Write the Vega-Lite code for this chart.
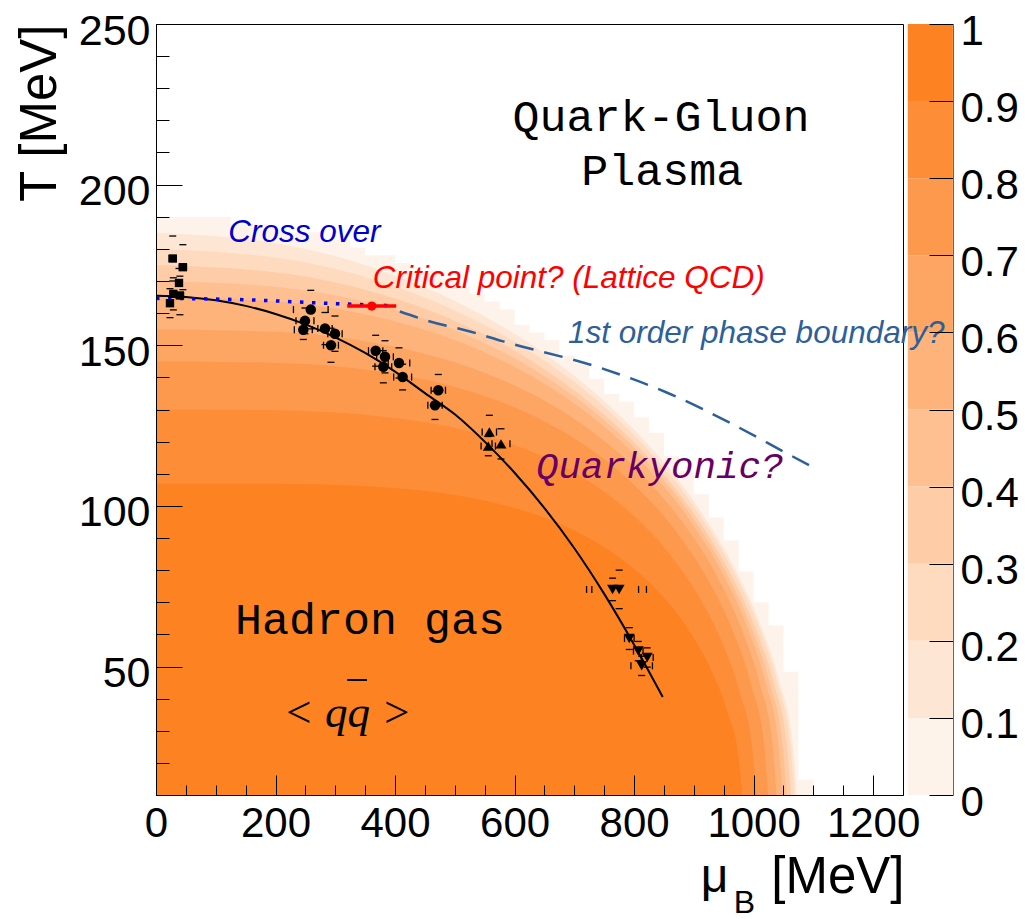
{
  "$schema": "https://vega.github.io/schema/vega-lite/v6.json",
  "width": 747,
  "height": 771,
  "autosize": "none",
  "padding": {"left": 156, "top": 24, "right": 122, "bottom": 124},
  "background": "white",
  "config": {
    "view": {"stroke": "black", "strokeWidth": 1},
    "axis": {"grid": false, "labelFont": "Liberation Sans", "titleFont": "Liberation Sans", "titleFontWeight": "normal", "labelColor": "black", "titleColor": "black", "domainColor": "black", "tickColor": "black", "labelFlush": false, "labelOverlap": false},
    "text": {"font": "Liberation Sans"}
  },
  "datasets": {
    "edge": [
      {"l":"L0","mu":0,"T":190},{"l":"L0","mu":25,"T":190},{"l":"L0","mu":50,"T":190},{"l":"L0","mu":75,"T":190},{"l":"L0","mu":100,"T":190},
      {"l":"L0","mu":125,"T":187.6},{"l":"L0","mu":150,"T":187.6},{"l":"L0","mu":175,"T":187.6},{"l":"L0","mu":200,"T":185.2},{"l":"L0","mu":225,"T":185.2},
      {"l":"L0","mu":250,"T":185.2},{"l":"L0","mu":275,"T":182.8},{"l":"L0","mu":300,"T":182.8},{"l":"L0","mu":325,"T":180.4},{"l":"L0","mu":350,"T":178},
      {"l":"L0","mu":375,"T":178},{"l":"L0","mu":400,"T":175.6},{"l":"L0","mu":425,"T":173.2},{"l":"L0","mu":450,"T":173.2},{"l":"L0","mu":475,"T":170.8},
      {"l":"L0","mu":500,"T":168.4},{"l":"L0","mu":525,"T":166},{"l":"L0","mu":550,"T":163.6},{"l":"L0","mu":575,"T":161.2},{"l":"L0","mu":600,"T":156.4},
      {"l":"L0","mu":625,"T":154},{"l":"L0","mu":650,"T":151.6},{"l":"L0","mu":675,"T":146.8},{"l":"L0","mu":700,"T":144.4},{"l":"L0","mu":725,"T":139.6},
      {"l":"L0","mu":750,"T":134.8},{"l":"L0","mu":775,"T":132.4},{"l":"L0","mu":800,"T":127.6},{"l":"L0","mu":825,"T":122.8},{"l":"L0","mu":850,"T":115.6},
      {"l":"L0","mu":875,"T":110.8},{"l":"L0","mu":900,"T":103.6},{"l":"L0","mu":925,"T":96.4},{"l":"L0","mu":950,"T":89.2},{"l":"L0","mu":975,"T":79.6},
      {"l":"L0","mu":1000,"T":70},{"l":"L0","mu":1025,"T":62.8},{"l":"L0","mu":1050,"T":48.4},{"l":"L0","mu":1075,"T":14.8},{"l":"L0","mu":1100,"T":0}
    ],
    "bands": [
      {"l":"L1","mu":0,"T":185},{"l":"L1","mu":215.2,"T":181.3},{"l":"L1","mu":376.6,"T":173.3},{"l":"L1","mu":538,"T":160.2},{"l":"L1","mu":645.6,"T":148},{"l":"L1","mu":753.2,"T":132.1},{"l":"L1","mu":839.3,"T":115.8},{"l":"L1","mu":914.6,"T":97.5},{"l":"L1","mu":968.4,"T":80.6},{"l":"L1","mu":1011.4,"T":63.1},{"l":"L1","mu":1043.7,"T":45},{"l":"L1","mu":1065.2,"T":26.1},{"l":"L1","mu":1076,"T":0},
      {"l":"L2","mu":0,"T":180},{"l":"L2","mu":214.4,"T":176.9},{"l":"L2","mu":375.2,"T":169.8},{"l":"L2","mu":536,"T":157.6},{"l":"L2","mu":643.2,"T":146},{"l":"L2","mu":750.4,"T":130.8},{"l":"L2","mu":836.2,"T":114.8},{"l":"L2","mu":911.2,"T":96.8},{"l":"L2","mu":964.8,"T":80.2},{"l":"L2","mu":1007.7,"T":62.8},{"l":"L2","mu":1039.8,"T":44.8},{"l":"L2","mu":1061.3,"T":26},{"l":"L2","mu":1072,"T":0},
      {"l":"L3","mu":0,"T":175},{"l":"L3","mu":213.2,"T":172.4},{"l":"L3","mu":373.1,"T":166.1},{"l":"L3","mu":533,"T":154.8},{"l":"L3","mu":639.6,"T":143.8},{"l":"L3","mu":746.2,"T":129},{"l":"L3","mu":831.5,"T":113.6},{"l":"L3","mu":906.1,"T":96},{"l":"L3","mu":959.4,"T":79.6},{"l":"L3","mu":1002,"T":62.4},{"l":"L3","mu":1034,"T":44.6},{"l":"L3","mu":1055.3,"T":25.9},{"l":"L3","mu":1066,"T":0},
      {"l":"L4","mu":0,"T":170},{"l":"L4","mu":211.8,"T":168},{"l":"L4","mu":370.7,"T":162.6},{"l":"L4","mu":529.5,"T":152.4},{"l":"L4","mu":635.4,"T":142.1},{"l":"L4","mu":741.3,"T":128.1},{"l":"L4","mu":826,"T":113.1},{"l":"L4","mu":900.2,"T":95.8},{"l":"L4","mu":953.1,"T":79.6},{"l":"L4","mu":995.5,"T":62.5},{"l":"L4","mu":1027.2,"T":44.7},{"l":"L4","mu":1048.4,"T":25.9},{"l":"L4","mu":1059,"T":0},
      {"l":"L5","mu":0,"T":165},{"l":"L5","mu":210.4,"T":163.5},{"l":"L5","mu":368.2,"T":158.9},{"l":"L5","mu":526,"T":149.7},{"l":"L5","mu":631.2,"T":140.1},{"l":"L5","mu":736.4,"T":126.7},{"l":"L5","mu":820.6,"T":112.2},{"l":"L5","mu":894.2,"T":95.3},{"l":"L5","mu":946.8,"T":79.4},{"l":"L5","mu":988.9,"T":62.5},{"l":"L5","mu":1020.4,"T":44.7},{"l":"L5","mu":1041.5,"T":26},{"l":"L5","mu":1052,"T":0},
      {"l":"L6","mu":0,"T":155},{"l":"L6","mu":208.4,"T":154.1},{"l":"L6","mu":364.7,"T":150.8},{"l":"L6","mu":521,"T":143.4},{"l":"L6","mu":625.2,"T":135.2},{"l":"L6","mu":729.4,"T":123.2},{"l":"L6","mu":812.8,"T":109.7},{"l":"L6","mu":885.7,"T":93.7},{"l":"L6","mu":937.8,"T":78.4},{"l":"L6","mu":979.5,"T":61.8},{"l":"L6","mu":1010.7,"T":44.3},{"l":"L6","mu":1031.6,"T":25.8},{"l":"L6","mu":1042,"T":0},
      {"l":"L7","mu":0,"T":145},{"l":"L7","mu":205.6,"T":144.5},{"l":"L7","mu":359.8,"T":142.2},{"l":"L7","mu":514,"T":136.3},{"l":"L7","mu":616.8,"T":129.3},{"l":"L7","mu":719.6,"T":118.6},{"l":"L7","mu":801.8,"T":106.3},{"l":"L7","mu":873.8,"T":91.2},{"l":"L7","mu":925.2,"T":76.5},{"l":"L7","mu":966.3,"T":60.6},{"l":"L7","mu":997.2,"T":43.5},{"l":"L7","mu":1017.7,"T":25.4},{"l":"L7","mu":1028,"T":0},
      {"l":"L8","mu":0,"T":130},{"l":"L8","mu":201.6,"T":129.8},{"l":"L8","mu":352.8,"T":128.3},{"l":"L8","mu":504,"T":124.1},{"l":"L8","mu":604.8,"T":118.6},{"l":"L8","mu":705.6,"T":109.8},{"l":"L8","mu":786.2,"T":99.1},{"l":"L8","mu":856.8,"T":85.6},{"l":"L8","mu":907.2,"T":72.2},{"l":"L8","mu":947.5,"T":57.4},{"l":"L8","mu":977.8,"T":41.3},{"l":"L8","mu":997.9,"T":24.2},{"l":"L8","mu":1008,"T":0},
      {"l":"L9","mu":0,"T":107},{"l":"L9","mu":197,"T":106.9},{"l":"L9","mu":344.8,"T":106.2},{"l":"L9","mu":492.5,"T":103.6},{"l":"L9","mu":591,"T":99.8},{"l":"L9","mu":689.5,"T":93.3},{"l":"L9","mu":768.3,"T":84.9},{"l":"L9","mu":837.3,"T":74},{"l":"L9","mu":886.5,"T":62.7},{"l":"L9","mu":925.9,"T":50.1},{"l":"L9","mu":955.5,"T":36.2},{"l":"L9","mu":975.2,"T":21.2},{"l":"L9","mu":985,"T":0}
    ],
    "cbar": [
      {"l":"L0","lo":0,"hi":0.1},{"l":"L1","lo":0.1,"hi":0.2},{"l":"L2","lo":0.2,"hi":0.3},{"l":"L3","lo":0.3,"hi":0.4},{"l":"L4","lo":0.4,"hi":0.5},
      {"l":"L5","lo":0.5,"hi":0.6},{"l":"L6","lo":0.6,"hi":0.7},{"l":"L7","lo":0.7,"hi":0.8},{"l":"L8","lo":0.8,"hi":0.9},{"l":"L9","lo":0.9,"hi":1}
    ],
    "fo": [
      {"mu":0,"T":165.4},{"mu":50,"T":165.05},{"mu":100,"T":164},{"mu":150,"T":162.25},{"mu":200,"T":159.75},{"mu":250,"T":156.5},{"mu":300,"T":152.45},{"mu":350,"T":147.6},{"mu":400,"T":141.8},{"mu":450,"T":135.1},{"mu":500,"T":128.5},{"mu":550,"T":120},{"mu":600,"T":110.3},{"mu":650,"T":99.3},{"mu":700,"T":86.8},{"mu":750,"T":72.6},{"mu":800,"T":56.8},{"mu":848,"T":40.5}
    ],
    "xo": [{"mu":0,"T":164.6},{"mu":160,"T":164.1},{"mu":280,"T":163.1},{"mu":400,"T":162.3}],
    "fo1": [{"mu":408,"T":160.5},{"mu":458.5,"T":157.4},{"mu":525.4,"T":154.3},{"mu":581,"T":151.2},{"mu":743,"T":143},{"mu":854.5,"T":135.3},{"mu":966,"T":125.3},{"mu":1055,"T":116.4},{"mu":1105.5,"T":111.4}],
    "cp": [{"mu":361,"T":162.2,"mL":320,"mH":402}],
    "qbar": [{"mL":320,"mH":353,"T":45.8}],
    "pts": [
      {"k":"sq","mu":28,"T":177,"mL":22,"mH":34,"TL":170,"TH":184},
      {"k":"sq","mu":45,"T":174.3,"mL":39,"mH":51,"TL":167.3,"TH":181.3},
      {"k":"sq","mu":38.5,"T":169.4,"mL":33.5,"mH":43.5,"TL":164.9,"TH":173.9},
      {"k":"sq","mu":29,"T":166,"mL":24,"mH":34,"TL":161,"TH":171},
      {"k":"sq","mu":40,"T":165.5,"mL":34,"mH":46,"TL":159.5,"TH":171.5},
      {"k":"sq","mu":23.4,"T":163.1,"mL":18.4,"mH":28.4,"TL":158.6,"TH":167.6},
      {"k":"ci","mu":259,"T":161.1,"mL":230,"mH":288,"TL":155.1,"TH":167.1},
      {"k":"ci","mu":249.3,"T":157.6,"mL":234.3,"mH":264.3,"TL":153.6,"TH":161.6},
      {"k":"ci","mu":246.5,"T":154.8,"mL":231.5,"mH":261.5,"TL":151.8,"TH":157.8},
      {"k":"ci","mu":282.8,"T":155.2,"mL":270.8,"mH":294.8,"TL":150.2,"TH":160.2},
      {"k":"ci","mu":299.5,"T":153.6,"mL":287.5,"mH":311.5,"TL":148.1,"TH":159.1},
      {"k":"ci","mu":292.8,"T":150,"mL":280.3,"mH":305.3,"TL":144.7,"TH":155.3},
      {"k":"ci","mu":367.6,"T":148.3,"mL":355.6,"mH":379.6,"TL":143.5,"TH":153.1},
      {"k":"ci","mu":383.2,"T":146.4,"mL":369.2,"mH":397.2,"TL":141.4,"TH":151.4},
      {"k":"ci","mu":380.4,"T":143.3,"mL":366.4,"mH":394.4,"TL":138.3,"TH":148.3},
      {"k":"ci","mu":406.6,"T":144.5,"mL":388.6,"mH":424.6,"TL":139.8,"TH":149.2},
      {"k":"ci","mu":412.7,"T":140.1,"mL":397.7,"mH":427.7,"TL":136.1,"TH":144.1},
      {"k":"ci","mu":472.4,"T":136,"mL":460.4,"mH":484.4,"TL":131.1,"TH":140.9},
      {"k":"ci","mu":466.9,"T":131.3,"mL":454.9,"mH":478.9,"TL":126.9,"TH":135.7},
      {"k":"tu","mu":557.8,"T":123,"mL":545.8,"mH":569.8,"TL":117.8,"TH":128.2},
      {"k":"tu","mu":556,"T":118.6,"mL":544,"mH":568,"TL":115.6,"TH":121.6},
      {"k":"tu","mu":577.3,"T":119.3,"mL":562.3,"mH":592.3,"TL":114.6,"TH":124},
      {"k":"td","mu":764,"T":74,"mL":720.5,"mH":807.5,"TL":70.5,"TH":77.5},
      {"k":"td","mu":775,"T":74,"mL":729.3,"mH":820.7,"TL":68,"TH":80},
      {"k":"td","mu":792,"T":58.7,"mL":784,"mH":800,"TL":55.3,"TH":62.1},
      {"k":"td","mu":807,"T":54.8,"mL":799,"mH":815,"TL":51.8,"TH":57.8},
      {"k":"td","mu":822,"T":52.8,"mL":812,"mH":832,"TL":49.8,"TH":55.8},
      {"k":"td","mu":812.7,"T":50.2,"mL":794.7,"mH":830.7,"TL":47.2,"TH":53.2}
    ]
  },
  "layer": [
    {
      "data": {"name": "cbar"},
      "mark": {"type": "rect"},
      "encoding": {
        "x": {"datum": 1258, "type": "quantitative", "scale": {"domain": [0, 1250], "nice": false, "zero": false}, "axis": null},
        "x2": {"datum": 1333.5},
        "y": {"field": "lo", "type": "quantitative", "scale": {"domain": [0, 1], "nice": false, "zero": false},
              "axis": {"orient": "right", "offset": 50, "values": [0, 0.1, 0.2, 0.3, 0.4, 0.5, 0.6, 0.7, 0.8, 0.9, 1], "format": "~g", "tickSize": -24, "domainColor": "#666666", "labelFontSize": 42, "labelPadding": 31, "labelBaseline": "middle", "labelOffset": 7, "labelAlign": "left", "title": null, "zindex": 1}},
        "y2": {"field": "hi"},
        "fill": {"field": "l", "type": "nominal", "legend": null,
                 "scale": {"domain": ["L0","L1","L2","L3","L4","L5","L6","L7","L8","L9"], "range": ["#fef3ea","#fee6d4","#fedabf","#fecda8","#fec091","#fdb37a","#fda663","#fd994d","#fd8d37","#fd8221"]}}
      }
    },
    {
      "resolve": {"axis": {"x": "independent", "y": "independent"}},
      "layer": [
        {
          "data": {"name": "edge"},
          "mark": {"type": "area", "clip": true, "interpolate": "step-after"},
          "encoding": {
            "x": {"field": "mu", "type": "quantitative", "scale": {"domain": [0, 1250], "nice": false, "zero": false},
                  "axis": {"orient": "bottom", "values": [0, 200, 400, 600, 800, 1000, 1200], "format": "d", "ticks": false, "tickSize": 0, "domain": false, "labelFontSize": 42, "labelPadding": 8,
                           "title": "[MeV]", "titleFontSize": 51, "titleAlign": "right", "titleBaseline": "alphabetic", "titleX": 748, "titleY": 97, "zindex": 1}},
            "y": {"field": "T", "type": "quantitative", "stack": null, "scale": {"domain": [10, 250], "nice": false, "zero": false},
                  "axis": {"orient": "left", "values": [50, 100, 150, 200, 250], "format": "d", "ticks": false, "tickSize": 0, "domain": false, "labelFontSize": 43, "labelPadding": 6, "labelBaseline": "middle", "labelOffset": 7,
                           "title": "T [MeV]", "titleFontSize": 51, "titleAngle": -90, "titleAlign": "right", "titleBaseline": "alphabetic", "titleX": -101, "titleY": 0, "zindex": 1}},
            "y2": {"datum": 0},
            "fill": {"field": "l", "type": "nominal", "legend": null}
          }
        },
        {
          "data": {"name": "bands"},
          "mark": {"type": "area", "clip": true, "interpolate": "monotone"},
          "encoding": {
            "x": {"field": "mu", "type": "quantitative", "axis": null},
            "y": {"field": "T", "type": "quantitative", "stack": null, "axis": null},
            "y2": {"datum": 0},
            "fill": {"field": "l", "type": "nominal", "legend": null}
          }
        },
        {
          "data": {"name": "fo"},
          "mark": {"type": "line", "color": "black", "strokeWidth": 2, "interpolate": "monotone"},
          "encoding": {
            "x": {"field": "mu", "type": "quantitative",
                  "axis": {"orient": "bottom", "values": [0, 200, 400, 600, 800, 1000, 1200], "labels": false, "tickSize": -20, "domain": true,
                           "title": "μ", "titleFontSize": 48, "titleAlign": "center", "titleBaseline": "alphabetic", "titleX": 558, "titleY": 96, "zindex": 1}},
            "y": {"field": "T", "type": "quantitative",
                  "axis": {"orient": "left", "values": [50, 100, 150, 200, 250], "labels": false, "tickSize": -26, "domain": true, "title": null, "zindex": 1}}
          }
        },
        {
          "data": {"name": "xo"},
          "mark": {"type": "line", "color": "#0000ff", "strokeWidth": 3.5, "strokeDash": [3.5, 8.5], "interpolate": "monotone"},
          "encoding": {
            "x": {"field": "mu", "type": "quantitative",
                  "axis": {"orient": "bottom", "values": [50, 100, 150, 250, 300, 350, 450, 500, 550, 650, 700, 750, 850, 900, 950, 1050, 1100, 1150], "labels": false, "tickSize": -10, "domain": false,
                           "title": "B", "titleFontSize": 32, "titleAlign": "center", "titleBaseline": "alphabetic", "titleX": 588, "titleY": 117, "zindex": 1}},
            "y": {"field": "T", "type": "quantitative",
                  "axis": {"orient": "left", "values": [20, 30, 40, 60, 70, 80, 90, 110, 120, 130, 140, 160, 170, 180, 190, 210, 220, 230, 240], "labels": false, "tickSize": -13, "domain": false, "title": null, "zindex": 1}}
          }
        },
        {
          "data": {"name": "fo1"},
          "mark": {"type": "line", "color": "#2d5f9a", "strokeWidth": 2.5, "strokeDash": [19, 11], "interpolate": "monotone"},
          "encoding": {
            "x": {"field": "mu", "type": "quantitative", "axis": null},
            "y": {"field": "T", "type": "quantitative", "axis": null}
          }
        },
        {
          "data": {"name": "cp"},
          "mark": {"type": "rule", "color": "#ff0000", "strokeWidth": 3.5},
          "encoding": {
            "x": {"field": "mL", "type": "quantitative", "axis": null},
            "x2": {"field": "mH"},
            "y": {"field": "T", "type": "quantitative", "axis": null}
          }
        },
        {
          "data": {"name": "cp"},
          "mark": {"type": "point", "shape": "circle", "filled": true, "color": "#ff0000", "size": 85, "opacity": 1},
          "encoding": {
            "x": {"field": "mu", "type": "quantitative", "axis": null},
            "y": {"field": "T", "type": "quantitative", "axis": null}
          }
        },
        {
          "data": {"name": "pts"},
          "mark": {"type": "tick", "orient": "horizontal", "color": "black", "size": 7, "thickness": 1.3, "opacity": 1},
          "encoding": {
            "x": {"field": "mu", "type": "quantitative", "axis": null},
            "y": {"field": "TH", "type": "quantitative", "axis": null}
          }
        },
        {
          "data": {"name": "pts"},
          "mark": {"type": "tick", "orient": "horizontal", "color": "black", "size": 7, "thickness": 1.3, "opacity": 1},
          "encoding": {
            "x": {"field": "mu", "type": "quantitative", "axis": null},
            "y": {"field": "TL", "type": "quantitative", "axis": null}
          }
        },
        {
          "data": {"name": "pts"},
          "mark": {"type": "tick", "orient": "vertical", "color": "black", "size": 7, "thickness": 1.3, "opacity": 1},
          "encoding": {
            "x": {"field": "mL", "type": "quantitative", "axis": null},
            "y": {"field": "T", "type": "quantitative", "axis": null}
          }
        },
        {
          "data": {"name": "pts"},
          "mark": {"type": "tick", "orient": "vertical", "color": "black", "size": 7, "thickness": 1.3, "opacity": 1},
          "encoding": {
            "x": {"field": "mH", "type": "quantitative", "axis": null},
            "y": {"field": "T", "type": "quantitative", "axis": null}
          }
        },
        {
          "data": {"name": "pts"},
          "transform": [{"filter": {"field": "k", "equal": "sq"}}],
          "mark": {"type": "point", "shape": "square", "filled": true, "color": "black", "opacity": 1, "size": 70},
          "encoding": {"x": {"field": "mu", "type": "quantitative", "axis": null}, "y": {"field": "T", "type": "quantitative", "axis": null}}
        },
        {
          "data": {"name": "pts"},
          "transform": [{"filter": {"field": "k", "equal": "ci"}}],
          "mark": {"type": "point", "shape": "circle", "filled": true, "color": "black", "opacity": 1, "size": 110},
          "encoding": {"x": {"field": "mu", "type": "quantitative", "axis": null}, "y": {"field": "T", "type": "quantitative", "axis": null}}
        },
        {
          "data": {"name": "pts"},
          "transform": [{"filter": {"field": "k", "equal": "tu"}}],
          "mark": {"type": "point", "shape": "triangle-up", "filled": true, "color": "black", "opacity": 1, "size": 120},
          "encoding": {"x": {"field": "mu", "type": "quantitative", "axis": null}, "y": {"field": "T", "type": "quantitative", "axis": null}}
        },
        {
          "data": {"name": "pts"},
          "transform": [{"filter": {"field": "k", "equal": "td"}}],
          "mark": {"type": "point", "shape": "triangle-down", "filled": true, "color": "black", "opacity": 1, "size": 120},
          "encoding": {"x": {"field": "mu", "type": "quantitative", "axis": null}, "y": {"field": "T", "type": "quantitative", "axis": null}}
        },
        {
          "data": {"values": [{"t": "Quark-Gluon", "mu": 845, "T": 216.7}, {"t": "Plasma", "mu": 847, "T": 199.9}]},
          "mark": {"type": "text", "align": "center", "baseline": "alphabetic", "font": "Liberation Mono", "fontSize": 45, "color": "black"},
          "encoding": {"x": {"field": "mu", "type": "quantitative", "axis": null}, "y": {"field": "T", "type": "quantitative", "axis": null}, "text": {"field": "t"}}
        },
        {
          "data": {"values": [{"t": "Hadron gas", "mu": 132, "T": 60.2}]},
          "mark": {"type": "text", "align": "left", "baseline": "alphabetic", "font": "Liberation Mono", "fontSize": 45, "color": "black"},
          "encoding": {"x": {"field": "mu", "type": "quantitative", "axis": null}, "y": {"field": "T", "type": "quantitative", "axis": null}, "text": {"field": "t"}}
        },
        {
          "data": {"values": [{"t": "Quarkyonic?", "mu": 636, "T": 108.6}]},
          "mark": {"type": "text", "align": "left", "baseline": "alphabetic", "font": "Liberation Mono", "fontStyle": "italic", "fontSize": 37.5, "color": "#660066"},
          "encoding": {"x": {"field": "mu", "type": "quantitative", "axis": null}, "y": {"field": "T", "type": "quantitative", "axis": null}, "text": {"field": "t"}}
        },
        {
          "data": {"values": [{"t": "Cross over", "mu": 121, "T": 182}]},
          "mark": {"type": "text", "align": "left", "baseline": "alphabetic", "font": "Liberation Sans", "fontStyle": "italic", "fontSize": 31.5, "color": "#0000cc"},
          "encoding": {"x": {"field": "mu", "type": "quantitative", "axis": null}, "y": {"field": "T", "type": "quantitative", "axis": null}, "text": {"field": "t"}}
        },
        {
          "data": {"values": [{"t": "Critical point? (Lattice QCD)", "mu": 362.6, "T": 167.8}]},
          "mark": {"type": "text", "align": "left", "baseline": "alphabetic", "font": "Liberation Sans", "fontStyle": "italic", "fontSize": 31.5, "color": "#ff0000"},
          "encoding": {"x": {"field": "mu", "type": "quantitative", "axis": null}, "y": {"field": "T", "type": "quantitative", "axis": null}, "text": {"field": "t"}}
        },
        {
          "data": {"values": [{"t": "1st order phase boundary?", "mu": 689.4, "T": 150.6}]},
          "mark": {"type": "text", "align": "left", "baseline": "alphabetic", "font": "Liberation Sans", "fontStyle": "italic", "fontSize": 31.5, "color": "#2d5f9a"},
          "encoding": {"x": {"field": "mu", "type": "quantitative", "axis": null}, "y": {"field": "T", "type": "quantitative", "axis": null}, "text": {"field": "t"}}
        },
        {
          "data": {"values": [{"t": "< qq >", "mu": 213, "T": 31.1}]},
          "mark": {"type": "text", "align": "left", "baseline": "alphabetic", "font": "Liberation Serif", "fontStyle": "italic", "fontSize": 45, "color": "black"},
          "encoding": {"x": {"field": "mu", "type": "quantitative", "axis": null}, "y": {"field": "T", "type": "quantitative", "axis": null}, "text": {"field": "t"}}
        },
        {
          "data": {"name": "qbar"},
          "mark": {"type": "rule", "color": "black", "strokeWidth": 2},
          "encoding": {
            "x": {"field": "mL", "type": "quantitative", "axis": null},
            "x2": {"field": "mH"},
            "y": {"field": "T", "type": "quantitative", "axis": null}
          }
        }
      ]
    }
  ],
  "resolve": {"scale": {"y": "independent"}}
}
